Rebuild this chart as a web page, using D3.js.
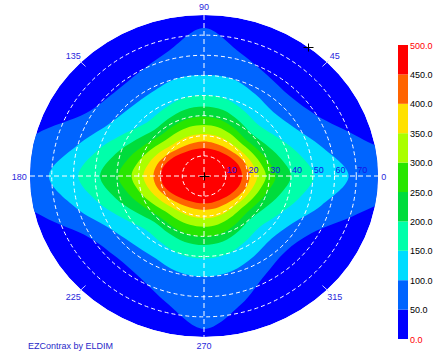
<!DOCTYPE html>
<html>
<head>
<meta charset="utf-8">
<script src="https://cdn.jsdelivr.net/npm/d3@7"></script>
<style>
  body { margin: 0; background: #fff; }
  text { font-family: "Liberation Sans", Arial, sans-serif; font-size: 9px; }
</style>
</head>
<body>
<svg id="chart" width="440" height="355"></svg>
<script>
// azimuth (deg) at which each iso-line radius (inclination, deg) was read
const azimuths = [0, 15, 30, 45, 60, 75, 90, 105, 120, 135, 150, 165,
                  180, 195, 210, 225, 240, 255, 270, 285, 300, 315, 330, 345];

// iso-luminance lines, inclination radius per azimuth
const iso50  = [100, 74, 60, 56, 58, 63.5, 73.5, 64, 59.5, 58.5, 62.5, 80, 100, 77, 61, 57, 58.5, 65.5, 76, 66, 56.5, 53, 57, 73];
const iso100 = [66.5, 56, 48, 45, 47, 50, 50.2, 50, 48, 48, 51, 60, 71.3, 61, 51, 47, 46.5, 49, 50.1, 49, 46, 44, 47, 56];
const iso150 = [50.5, 44.6, 38.7, 35.6, 37.2, 39.6, 40.3, 39.8, 38, 37.4, 42.2, 50.3, 57.8, 50.4, 42.5, 37.8, 38.6, 40.5, 41, 40.3, 37.7, 36, 39, 44.7];
const iso200 = [40, 36, 32.2, 30.3, 31.8, 33.9, 34.5, 34.1, 32.8, 32.4, 36.1, 42.2, 47.8, 42.2, 36.1, 32.3, 32.7, 33.9, 34.3, 33.7, 31.7, 30.2, 32.1, 36];
const iso250 = [33, 30.3, 27.7, 26.4, 27.5, 29, 29.5, 29.3, 28.5, 28.4, 31.2, 35.5, 39.4, 35.6, 31.4, 28.8, 29, 29.9, 30.2, 29.7, 28.1, 26.8, 27.9, 30.3];
const iso300 = [28.5, 26.6, 24.7, 23.6, 24.2, 25.1, 25.4, 25.3, 24.9, 25.1, 27.4, 30.6, 33.3, 30.6, 27.3, 25, 24.8, 25.1, 25.2, 24.9, 24, 23.5, 24.6, 26.5];
const iso350 = [24.5, 23.1, 21.5, 20.5, 20.5, 20.8, 20.9, 20.9, 21, 21.5, 23.5, 26, 27.9, 26, 23.5, 21.6, 21, 21, 21, 20.9, 20.6, 20.5, 21.6, 23.1];
const iso400 = [21, 20.3, 18.9, 17.6, 17.1, 17, 17.1, 17.1, 17.4, 18.3, 20.2, 22.3, 23.3, 22.3, 20.1, 18.2, 17.2, 16.9, 16.9, 16.9, 16.9, 17.5, 18.8, 20.3];
const iso450 = [17.5, 17, 15.8, 14.7, 14.1, 13.8, 13.8, 13.9, 14.4, 15.4, 17.2, 19.1, 20, 19.1, 17.1, 15.3, 14.2, 13.7, 13.6, 13.7, 13.9, 14.6, 15.7, 17];

const levels = [50, 100, 150, 200, 250, 300, 350, 400, 450];
const isoLines = [iso50, iso100, iso150, iso200, iso250, iso300, iso350, iso400, iso450];

const legendTicks = [0, 50, 100, 150, 200, 250, 300, 350, 400, 450, 500];
const bandColors = ['#0000ff', '#0064ff', '#00dcff', '#00ffaa', '#00dc3c',
                    '#28e600', '#aaff00', '#ffe100', '#ff6400', '#ff0000'];

const rings = [10, 20, 30, 40, 50, 60, 70];
const ringLabels = ['10', '20', '30', '40', '50', '60', '70'];
const dirAngles = [0, 45, 90, 135, 180, 225, 270, 315];
const dirLabels = ['0', '45', '90', '135', '180', '225', '270', '315'];
const markers = [[0, 0], [53.3, 80]];   // [azimuth, inclination]

const maxInc = 80;

const svg = d3.select('#chart');

const x = d3.scaleLinear().domain([-maxInc, maxInc]).range([30, 378]);
const y = d3.scaleLinear().domain([-maxInc, maxInc]).range([337, 15]);
const rad = d3.scaleLinear().domain([0, 360]).range([0, 2 * Math.PI]);

const px = (az, r) => x(r * Math.cos(rad(az)));
const py = (az, r) => y(r * Math.sin(rad(az)));

svg.append('defs').append('clipPath')
  .attr('id', 'disk')
  .append('ellipse')
  .attr('cx', x(0)).attr('cy', y(0))
  .attr('rx', x(maxInc) - x(0)).attr('ry', y(0) - y(maxInc));

const plot = svg.append('g').attr('clip-path', 'url(#disk)');

// background = lowest band
plot.append('ellipse')
  .attr('cx', x(0)).attr('cy', y(0))
  .attr('rx', x(maxInc) - x(0)).attr('ry', y(0) - y(maxInc))
  .attr('fill', bandColors[0]);

const isoLine = d3.line()
  .x(d => px(d[0], d[1]))
  .y(d => py(d[0], d[1]))
  .curve(d3.curveCatmullRomClosed.alpha(0.5));

plot.selectAll('path.band')
  .data(isoLines)
  .enter()
  .append('path')
  .attr('class', 'band')
  .attr('d', radii => isoLine(azimuths.map((a, i) => [a, radii[i]])))
  .attr('fill', (d, i) => bandColors[i + 1]);

// dashed grid
plot.selectAll('ellipse.ring')
  .data(rings)
  .enter()
  .append('ellipse')
  .attr('class', 'ring')
  .attr('cx', x(0)).attr('cy', y(0))
  .attr('rx', r => x(r) - x(0))
  .attr('ry', r => y(0) - y(r))
  .attr('fill', 'none')
  .attr('stroke', '#fff')
  .attr('stroke-width', 1)
  .attr('stroke-dasharray', '4,3');

plot.append('line')
  .attr('x1', x(-maxInc)).attr('x2', x(maxInc))
  .attr('y1', y(0)).attr('y2', y(0))
  .attr('stroke', '#fff').attr('stroke-dasharray', '5,3');
plot.append('line')
  .attr('x1', x(0)).attr('x2', x(0))
  .attr('y1', y(maxInc)).attr('y2', y(-maxInc))
  .attr('stroke', '#fff').attr('stroke-dasharray', '5,3');

// diagonal ticks at the rim
svg.selectAll('line.dtick')
  .data([45, 135, 225, 315])
  .enter()
  .append('line')
  .attr('class', 'dtick')
  .attr('x1', a => px(a, 77)).attr('y1', a => py(a, 77))
  .attr('x2', a => px(a, 81)).attr('y2', a => py(a, 81))
  .attr('stroke', '#c8c8ff');

// markers
markers.forEach(m => {
  const mx = Math.round(px(m[0], m[1])) + 0.5, my = Math.round(py(m[0], m[1])) + 0.5;
  svg.append('path')
    .attr('d', `M${mx - 5},${my}H${mx + 5}M${mx},${my - 4}V${my + 4}`)
    .attr('stroke', '#000').attr('stroke-width', 1);
});

// ring labels
svg.selectAll('text.ringlab')
  .data(rings)
  .enter()
  .append('text')
  .attr('class', 'ringlab')
  .attr('x', r => x(r) + 1)
  .attr('y', y(0) - 3.5)
  .attr('fill', '#1414e6')
  .text((r, i) => ringLabels[i]);

// direction labels
const dirR = a => (a % 180 === 0 ? 81.5 : a % 90 === 0 ? 84 : 85);
svg.selectAll('text.dir')
  .data(dirAngles)
  .enter()
  .append('text')
  .attr('class', 'dir')
  .attr('x', a => px(a, dirR(a)))
  .attr('y', a => py(a, dirR(a)) + 3.5)
  .attr('text-anchor', a => a === 0 ? 'start' : a === 180 ? 'end' : 'middle')
  .attr('fill', '#2828dc')
  .text((a, i) => dirLabels[i]);

svg.append('text')
  .attr('x', 28).attr('y', 349)
  .attr('fill', '#2828c8')
  .text('EZContrax by ELDIM');

// colour bar
const cb = d3.scaleLinear().domain([0, 500]).range([339, 45]);
svg.selectAll('rect.cbar')
  .data(bandColors)
  .enter()
  .append('rect')
  .attr('class', 'cbar')
  .attr('x', 398).attr('width', 10)
  .attr('y', (c, i) => cb(legendTicks[i + 1]))
  .attr('height', (c, i) => cb(legendTicks[i]) - cb(legendTicks[i + 1]))
  .attr('fill', c => c);

svg.selectAll('text.cblab')
  .data(legendTicks)
  .enter()
  .append('text')
  .attr('class', 'cblab')
  .attr('x', 410)
  .attr('y', v => cb(v) + 3.5)
  .attr('fill', (v, i) => (i === 0 || i === legendTicks.length - 1) ? '#ff0000' : '#000')
  .text(v => d3.format('.1f')(v));
</script>
</body>
</html>
